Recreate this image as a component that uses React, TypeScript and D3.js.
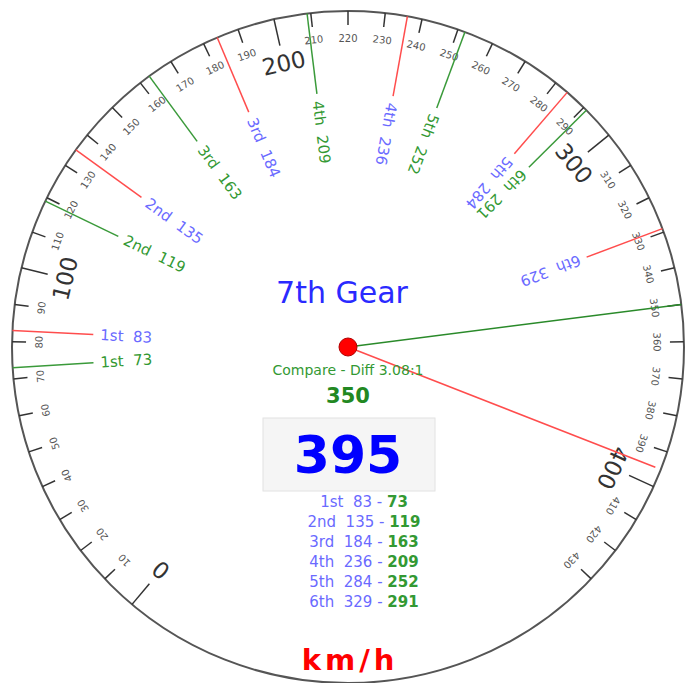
import React, { useEffect, useRef } from 'react';
import { scaleLinear, select, range } from 'd3';

const gearNames = ['1st', '2nd', '3rd', '4th', '5th', '6th'];
const gearSpeeds = [83, 135, 184, 236, 284, 329];
const compareSpeeds = [73, 119, 163, 209, 252, 291];
const currentSpeed = 395;
const compareSpeed = 350;
const title = '7th Gear';
const compareLabel = 'Compare - Diff 3.08:1';
const unitLabel = 'km/h';
const minorTicks = range(0, 440, 10);
const majorTicks = [0, 100, 200, 300, 400];

const W = 697;
const H = 683;
const cx = 348;
const cy = 347;
const R = 336;

export default function App() {
  const ref = useRef<SVGSVGElement>(null);

  useEffect(() => {
    const svg = select(ref.current);
    svg.selectAll('*').remove();
    const font = 'DejaVu Sans, Verdana, sans-serif';

    // 0 km/h sits at -140deg, full scale 440 at +140deg (0 = up, clockwise)
    const angle = scaleLinear().domain([0, 440]).range([-140, 140]);
    const rad = (d: number) => (angle(d) * Math.PI) / 180;
    const px = (d: number, r: number) => r * Math.sin(rad(d));
    const py = (d: number, r: number) => -r * Math.cos(rad(d));

    const g = svg.append('g').attr('transform', `translate(${cx},${cy})`);

    g.append('circle')
      .attr('r', R)
      .attr('fill', '#fff')
      .attr('stroke', '#555')
      .attr('stroke-width', 2);

    // ticks
    g.append('g')
      .selectAll('line')
      .data(minorTicks)
      .join('line')
      .attr('x1', d => px(d, R))
      .attr('y1', d => py(d, R))
      .attr('x2', d => px(d, majorTicks.includes(d) ? R - 27 : R - 14))
      .attr('y2', d => py(d, majorTicks.includes(d) ? R - 27 : R - 14))
      .attr('stroke', '#333')
      .attr('stroke-width', 1.5);

    g.append('g')
      .selectAll('text')
      .data(minorTicks.filter(d => !majorTicks.includes(d)))
      .join('text')
      .attr('transform', d => `rotate(${angle(d)}) translate(0,${-(R - 27)})`)
      .attr('text-anchor', 'middle')
      .attr('dy', '0.35em')
      .attr('font-family', font)
      .attr('font-size', 10)
      .attr('fill', '#555')
      .text(d => d);

    g.append('g')
      .selectAll('text')
      .data(majorTicks)
      .join('text')
      .attr('transform', d => `rotate(${angle(d)}) translate(0,${-(R - 45)})`)
      .attr('text-anchor', 'middle')
      .attr('dy', '0.35em')
      .attr('font-family', font)
      .attr('font-size', 23)
      .attr('fill', '#333')
      .text(d => d);

    // gear markers: red = current ratio, green = compare
    const markers = [
      ...gearSpeeds.map((v, i) => ({ v, name: gearNames[i], line: '#ff4d4d', txt: '#6a6aff' })),
      ...compareSpeeds.map((v, i) => ({ v, name: gearNames[i], line: '#3a9a3a', txt: '#339933' })),
    ];

    const mk = g.append('g').selectAll('g').data(markers).join('g');
    mk.append('line')
      .attr('x1', d => px(d.v, R))
      .attr('y1', d => py(d.v, R))
      .attr('x2', d => px(d.v, R - 81))
      .attr('y2', d => py(d.v, R - 81))
      .attr('stroke', d => d.line)
      .attr('stroke-width', 1.5);
    mk.append('text')
      .attr('transform', d => `rotate(${angle(d.v)}) translate(0,${-(R - 88)}) rotate(90)`)
      .attr('dy', '0.35em')
      .attr('font-family', font)
      .attr('font-size', 15)
      .attr('fill', d => d.txt)
      .style('white-space', 'pre')
      .text(d => `${d.name}  ${d.v}`);

    // centre texts
    svg.append('text')
      .attr('x', 342).attr('y', 303)
      .attr('text-anchor', 'middle')
      .attr('font-family', font).attr('font-size', 30)
      .attr('fill', '#2a2aff')
      .text(title);

    svg.append('text')
      .attr('x', cx).attr('y', 375)
      .attr('text-anchor', 'middle')
      .attr('font-family', font).attr('font-size', 14)
      .attr('fill', '#339933')
      .text(compareLabel);

    svg.append('text')
      .attr('x', cx).attr('y', 403)
      .attr('text-anchor', 'middle')
      .attr('font-family', font).attr('font-size', 21).attr('font-weight', 'bold')
      .attr('fill', '#228822')
      .text(compareSpeed);

    svg.append('rect')
      .attr('x', 263).attr('y', 418).attr('width', 172).attr('height', 73)
      .attr('fill', '#f5f5f5').attr('stroke', '#e2e2e2');

    svg.append('text')
      .attr('x', cx).attr('y', 473)
      .attr('text-anchor', 'middle')
      .attr('font-family', font).attr('font-size', 52).attr('font-weight', 'bold')
      .attr('fill', '#0000ff')
      .text(currentSpeed);

    const list = svg.append('g')
      .selectAll('text')
      .data(gearNames)
      .join('text')
      .attr('x', 364)
      .attr('y', (d, i) => 507 + i * 20)
      .attr('text-anchor', 'middle')
      .attr('font-family', font).attr('font-size', 15)
      .style('white-space', 'pre');
    list.append('tspan').attr('fill', '#6a6aff').text((d, i) => `${d}  ${gearSpeeds[i]} - `);
    list.append('tspan').attr('fill', '#339933').attr('font-weight', 'bold').text((d, i) => compareSpeeds[i]);

    svg.append('text')
      .attr('x', 350).attr('y', 670)
      .attr('text-anchor', 'middle')
      .attr('font-family', font).attr('font-size', 29).attr('font-weight', 'bold')
      .attr('letter-spacing', 4)
      .attr('fill', '#ff0000')
      .text(unitLabel);

    // needles
    const needles = [
      { v: compareSpeed, color: '#2a8a2a', r: R },
      { v: currentSpeed, color: '#ff4d4d', r: R - 6 },
    ];
    g.append('g')
      .selectAll('line')
      .data(needles)
      .join('line')
      .attr('x1', 0).attr('y1', 0)
      .attr('x2', d => px(d.v, d.r))
      .attr('y2', d => py(d.v, d.r))
      .attr('stroke', d => d.color)
      .attr('stroke-width', 1.5);

    g.append('circle')
      .attr('r', 9)
      .attr('fill', '#ff0000')
      .attr('stroke', '#b00000')
      .attr('stroke-width', 1);
  }, []);

  return (
    <svg ref={ref} width={W} height={H} style={{ position: 'absolute', left: 0, top: 0 }} />
  );
}
